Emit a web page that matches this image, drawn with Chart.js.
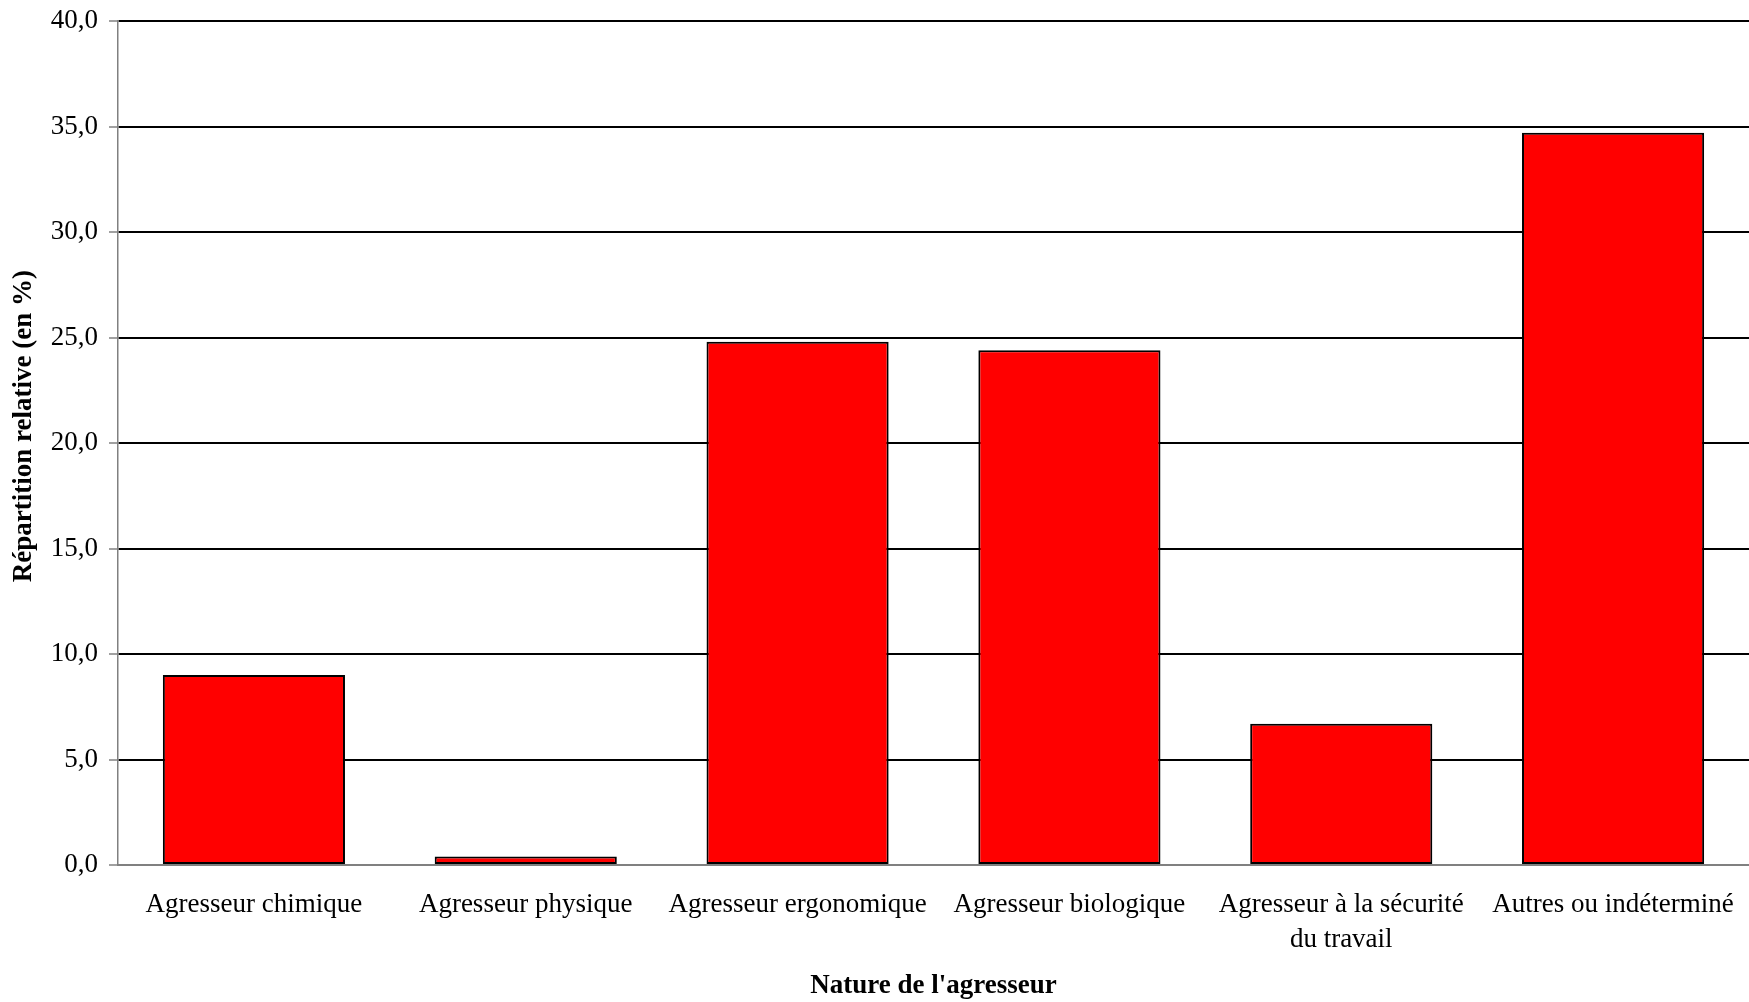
<!DOCTYPE html>
<html>
<head>
<meta charset="utf-8">
<script src="https://cdn.jsdelivr.net/npm/chart.js@4/dist/chart.umd.min.js"></script>
<style>
  html, body { margin: 0; padding: 0; background: #fff; }
  #wrap { width: 1749px; height: 1002px; }
</style>
</head>
<body>
<div id="wrap"><canvas id="chart"></canvas></div>
<script>
// Données
const categories = [
    "Agresseur chimique",
    "Agresseur physique",
    "Agresseur ergonomique",
    "Agresseur biologique",
    ["Agresseur à la sécurité", "du travail"],
    "Autres ou indéterminé"
];
const values = [9.0, 0.4, 24.8, 24.4, 6.7, 34.7];
const yTicks = [0, 5, 10, 15, 20, 25, 30, 35, 40];

const serif = "'Liberation Serif', 'Times New Roman', serif";

const ctx = document.getElementById("chart").getContext("2d");
new Chart(ctx, {
    type: "bar",
    data: {
        labels: categories,
        datasets: [{
            data: values,
            backgroundColor: "#ff0000",
            borderColor: "#000000",
            borderWidth: 2,
            borderSkipped: false,
            categoryPercentage: 1,
            barPercentage: 0.67
        }]
    },
    options: {
        responsive: true,
        maintainAspectRatio: false,
        animation: false,
        layout: { padding: { top: 21, right: 0, bottom: 0, left: 0 } },
        plugins: {
            legend: { display: false },
            tooltip: { enabled: false }
        },
        scales: {
            x: {
                grid: { display: false },
                border: { color: "#808080", width: 2 },
                ticks: {
                    color: "#000",
                    padding: 15,
                    maxRotation: 0,
                    autoSkip: false,
                    font: { family: serif, size: 27, lineHeight: 1.28 }
                },
                title: {
                    display: true,
                    text: "Nature de l'agresseur",
                    color: "#000",
                    padding: { top: 0, bottom: 0 },
                    font: { family: serif, size: 27, weight: "bold" }
                },
                afterFit: s => { s.height = 137; s.paddingLeft = 0; s.paddingRight = 0; }
            },
            y: {
                min: 0,
                max: 40,
                afterBuildTicks: s => { s.ticks = yTicks.map(v => ({ value: v })); },
                grid: {
                    color: c => c.tick && c.tick.value === 0 ? "#808080" : "#000000",
                    lineWidth: 2,
                    tickColor: "#808080",
                    tickLength: 9,
                    tickWidth: 1.5
                },
                border: { color: "#808080", width: 1.5 },
                ticks: {
                    color: "#000",
                    padding: 11,
                    font: { family: serif, size: 27 },
                    callback: v => v.toFixed(1).replace(".", ",")
                },
                title: {
                    display: true,
                    // espaces en tête : décale le titre vers le haut comme dans l'original
                    text: "     Répartition relative (en %)",
                    color: "#000",
                    padding: { top: 8, bottom: 0 },
                    font: { family: serif, size: 27, weight: "bold" }
                },
                afterFit: s => { s.width = 118; s.paddingTop = 0; s.paddingBottom = 0; }
            }
        }
    }
});
</script>
</body>
</html>
